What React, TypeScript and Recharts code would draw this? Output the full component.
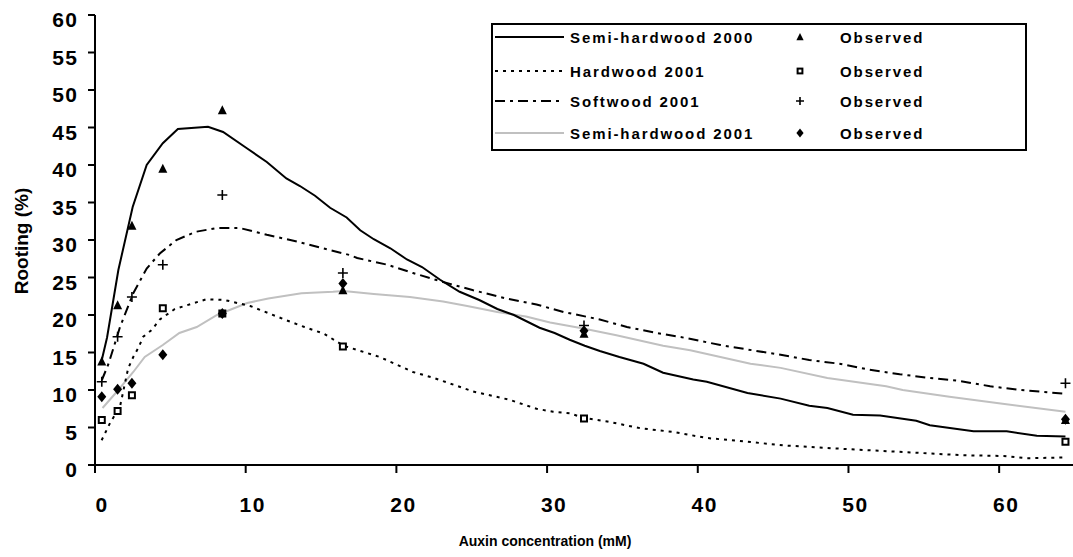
import React from 'react';
import { ComposedChart, Line, Scatter, XAxis, YAxis } from 'recharts';

// auxin concentrations where rooting was observed (mM)
const concentrations = [0.45, 1.5, 2.45, 4.5, 8.45, 16.45, 32.45, 64.4];

const semiHard2000Observed = [13.8, 21.3, 31.9, 39.5, 47.3, 23.3, 17.5, 6.0];
const hardwood2001Observed = [6.0, 7.2, 9.3, 20.9, 20.2, 15.8, 6.2, 3.1];
const softwood2001Observed = [11.1, 17.1, 22.4, 26.7, 36.0, 25.6, 18.6, 10.9];
const semiHard2001Observed = [9.1, 10.1, 10.9, 14.7, 20.2, 24.2, 17.9, 6.1];

// fitted model curves, [concentration, rooting %]
const semiHard2000Fit: [number, number][] = [
  [0.45, 14.0], [0.8, 17.0], [1.55, 26.0], [2.5, 34.4], [3.43, 40.0], [4.5, 42.9],
  [5.5, 44.8], [7.5, 45.1], [8.5, 44.4], [10.1, 42.2], [11.4, 40.4], [12.7, 38.2],
  [13.6, 37.2], [14.6, 35.9], [15.6, 34.3], [16.7, 33.0], [17.6, 31.3], [18.5, 30.1],
  [19.6, 28.9], [20.7, 27.4], [21.7, 26.4], [22.9, 24.7], [24.2, 23.1], [25.5, 22.0],
  [26.7, 20.8], [27.8, 20.0], [29.5, 18.3], [30.5, 17.6], [31.5, 16.7], [32.5, 15.9],
  [33.5, 15.2], [34.8, 14.4], [36.4, 13.5], [37.7, 12.3], [39.7, 11.4], [40.6, 11.1],
  [43.3, 9.6], [45.5, 8.85], [47.4, 7.9], [48.6, 7.6], [50.3, 6.7], [52.1, 6.6],
  [54.5, 5.9], [55.4, 5.3], [58.3, 4.5], [60.5, 4.5], [62.5, 3.9], [64.4, 3.8],
];

const hardwood2001Fit: [number, number][] = [
  [0.44, 3.3], [1.0, 5.6], [1.66, 7.8], [2.2, 12.9], [2.54, 14.4], [2.87, 15.6],
  [3.2, 17.1], [3.76, 18.0], [4.3, 19.4], [5.3, 20.8], [6.1, 21.3], [7.4, 22.1],
  [8.6, 22.0], [10.3, 21.2], [12.7, 19.3], [13.9, 18.4], [15.2, 17.5], [16.5, 15.9],
  [18.9, 14.4], [21.1, 12.4], [22.5, 11.6], [25.1, 9.8], [27.5, 8.7], [29.3, 7.5],
  [30.4, 7.1], [31.5, 6.9], [32.4, 6.3], [34.0, 5.8], [36.2, 4.9], [38.4, 4.4],
  [40.6, 3.6], [43.3, 3.1], [45.8, 2.6], [50.1, 2.1], [53.9, 1.7], [57.6, 1.3],
  [60.3, 1.2], [61.8, 0.9], [64.4, 1.0],
];

const softwood2001Fit: [number, number][] = [
  [0.45, 11.3], [0.9, 13.5], [1.66, 18.4], [2.54, 22.9], [3.43, 26.2], [4.3, 28.2],
  [5.4, 30.0], [6.7, 31.1], [8.1, 31.6], [9.6, 31.6], [11.4, 30.7], [13.4, 29.8],
  [15.1, 28.9], [16.9, 28.0], [17.4, 27.6], [19.4, 26.7], [21.1, 25.6], [23.1, 24.4],
  [25.1, 23.3], [27.3, 22.2], [29.3, 21.4], [31.1, 20.4], [33.5, 19.4], [35.3, 18.4],
  [37.3, 17.6], [39.3, 16.9], [41.5, 16.0], [43.3, 15.4], [45.5, 14.7], [47.4, 14.0],
  [49.4, 13.5], [51.4, 12.7], [53.4, 12.1], [55.4, 11.6], [57.4, 11.2], [59.4, 10.5],
  [61.4, 10.0], [64.4, 9.5],
];

const semiHard2001Fit: [number, number][] = [
  [0.5, 7.6], [1.55, 10.0], [2.54, 12.4], [3.3, 14.4], [4.5, 16.0], [5.6, 17.6],
  [6.75, 18.4], [8.1, 20.0], [10.1, 21.6], [11.5, 22.2], [13.7, 22.9], [15.8, 23.1],
  [16.5, 23.2], [18.5, 22.8], [20.9, 22.4], [23.1, 21.8], [24.7, 21.2], [26.7, 20.4],
  [28.6, 19.8], [30.2, 19.0], [32.4, 18.2], [34.6, 17.3], [37.7, 15.9], [39.5, 15.3],
  [41.5, 14.4], [43.5, 13.5], [45.5, 12.95], [48.6, 11.6], [52.5, 10.5], [53.6, 10.0],
  [56.7, 9.1], [60.1, 8.2], [64.4, 7.1],
];

const xTicks = [0, 10, 20, 30, 40, 50, 60];
const yTicks = [0, 5, 10, 15, 20, 25, 30, 35, 40, 45, 50, 55, 60];

const FONT = '"Liberation Sans", Arial, sans-serif';
const GREY = '#c0c0c0';

const fit = (pairs: [number, number][]) => pairs.map(([x, y]) => ({ x, y }));
const observed = (vals: number[]) => concentrations.map((x, i) => ({ x, y: vals[i] }));

const Triangle = ({ cx, cy, s = 1 }: any) => (
  <path d={`M${cx},${cy - 5 * s} L${cx + 4.5 * s},${cy + 4 * s} L${cx - 4.5 * s},${cy + 4 * s} Z`} fill="#000" />
);
const Square = ({ cx, cy, s = 1 }: any) => (
  <rect x={cx - 3 * s} y={cy - 3 * s} width={6 * s} height={6 * s} fill="#fff" stroke="#000" strokeWidth={2} />
);
const Plus = ({ cx, cy, s = 1 }: any) => (
  <path d={`M${cx - 5 * s},${cy} H${cx + 5 * s} M${cx},${cy - 5 * s} V${cy + 5 * s}`} stroke="#000" strokeWidth={1.6} />
);
const Diamond = ({ cx, cy, s = 1 }: any) => (
  <path d={`M${cx},${cy - 5.5 * s} L${cx + 4.5 * s},${cy} L${cx},${cy + 5.5 * s} L${cx - 4.5 * s},${cy} Z`} fill="#000" />
);

const XTick = ({ x, y, payload }: any) => (
  <text x={x + 7} y={y + 37} textAnchor="middle" fontFamily={FONT} fontWeight="bold" fontSize={21} letterSpacing={1.5} fill="#000">
    {payload.value}
  </text>
);
const YTick = ({ x, y, payload }: any) => (
  <text x={x - 7.5} y={y + 12} textAnchor="end" fontFamily={FONT} fontWeight="bold" fontSize={21} letterSpacing={1.5} fill="#000">
    {payload.value}
  </text>
);

const legendRows = [
  { name: 'Semi-hardwood 2000', stroke: '#000', dash: undefined, Marker: Triangle },
  { name: 'Hardwood 2001', stroke: '#000', dash: '3 5', Marker: Square },
  { name: 'Softwood 2001', stroke: '#000', dash: '10 5 3 5', Marker: Plus },
  { name: 'Semi-hardwood 2001', stroke: GREY, dash: undefined, Marker: Diamond },
];
const legendRowY = [12, 46, 76, 108];

function LegendBox() {
  return (
    <div
      style={{
        position: 'absolute', left: 491, top: 23, width: 532, height: 124,
        border: '2px solid #000', background: '#fff', fontFamily: FONT,
      }}
    >
      <svg width={532} height={124}>
        {legendRows.map((r, i) => {
          const cy = legendRowY[i];
          return (
            <g key={r.name}>
              <line x1={2} x2={71} y1={cy} y2={cy} stroke={r.stroke} strokeWidth={2} strokeDasharray={r.dash} />
              <text x={77} y={cy + 5.5} fontSize={15} fontWeight="bold" letterSpacing={1.9} fill="#000">{r.name}</text>
              <r.Marker cx={307} cy={cy} s={0.8} />
              <text x={347} y={cy + 5.5} fontSize={15} fontWeight="bold" letterSpacing={1.9} fill="#000">Observed</text>
            </g>
          );
        })}
      </svg>
    </div>
  );
}

export default function App() {
  return (
    <div style={{ position: 'absolute', left: 0, top: 0, width: 1073, height: 557, background: '#fff' }}>
      <ComposedChart width={1073} height={557} margin={{ top: 15, right: 0, bottom: 32, left: 0 }}>
        <XAxis
          type="number"
          dataKey="x"
          domain={[0, 64.9]}
          ticks={xTicks}
          allowDataOverflow
          height={60}
          tickSize={8}
          axisLine={{ stroke: '#000', strokeWidth: 2 }}
          tickLine={{ stroke: '#000', strokeWidth: 2 }}
          tick={<XTick />}
        />
        <YAxis
          type="number"
          dataKey="y"
          domain={[0, 60]}
          ticks={yTicks}
          width={95}
          tickSize={7}
          axisLine={{ stroke: '#000', strokeWidth: 2 }}
          tickLine={{ stroke: '#000', strokeWidth: 2 }}
          tick={<YTick />}
        />
        <Line data={fit(semiHard2001Fit)} dataKey="y" stroke={GREY} strokeWidth={2} dot={false} isAnimationActive={false} />
        <Line data={fit(hardwood2001Fit)} dataKey="y" stroke="#000" strokeWidth={2} strokeDasharray="3 5" dot={false} isAnimationActive={false} />
        <Line data={fit(softwood2001Fit)} dataKey="y" stroke="#000" strokeWidth={2} strokeDasharray="10 5 3 5" dot={false} isAnimationActive={false} />
        <Line data={fit(semiHard2000Fit)} dataKey="y" stroke="#000" strokeWidth={2} dot={false} isAnimationActive={false} />
        <Scatter data={observed(hardwood2001Observed)} shape={<Square />} isAnimationActive={false} />
        <Scatter data={observed(semiHard2000Observed)} shape={<Triangle />} isAnimationActive={false} />
        <Scatter data={observed(semiHard2001Observed)} shape={<Diamond />} isAnimationActive={false} />
        <Scatter data={observed(softwood2001Observed)} shape={<Plus />} isAnimationActive={false} />
      </ComposedChart>
      <LegendBox />
      <div
        style={{
          position: 'absolute', left: 22, top: 241, transform: 'translate(-50%, -50%) rotate(-90deg)',
          fontFamily: FONT, fontWeight: 'bold', fontSize: 19, whiteSpace: 'nowrap',
        }}
      >
        Rooting (%)
      </div>
      <div
        style={{
          position: 'absolute', left: 545, top: 541, transform: 'translate(-50%, -50%)',
          fontFamily: FONT, fontWeight: 'bold', fontSize: 14, whiteSpace: 'nowrap',
        }}
      >
        Auxin concentration (mM)
      </div>
    </div>
  );
}
